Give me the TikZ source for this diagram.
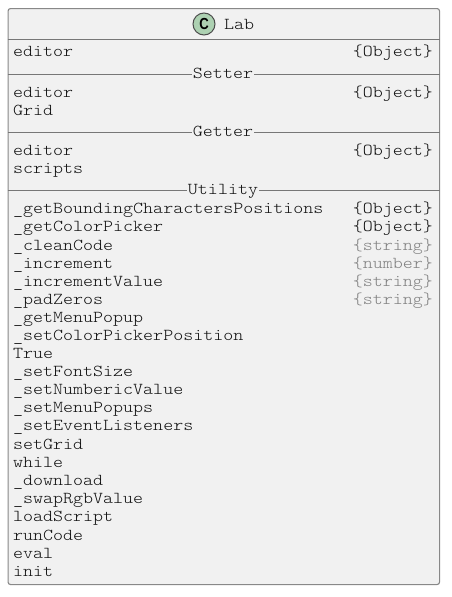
\documentclass[tikz,border=0pt]{standalone}
\usepackage{fontspec}
\setmainfont{Latin Modern Mono Light}[FakeStretch=1.143]
\newfontfamily\iconfont{Liberation Sans}[FakeStretch=0.82]
\newcommand{\us}{\raisebox{-1.6pt}{\_}}
\definecolor{boxbg}{HTML}{F1F1F1}
\definecolor{boxline}{HTML}{888888}
\definecolor{sepline}{HTML}{777777}
\definecolor{txt}{HTML}{111111}
\definecolor{muted}{HTML}{808080}
\definecolor{iconbg}{HTML}{ADD1B2}
\tikzset{
  lbl/.style={anchor=base west,inner sep=0pt,text=txt,font=\fontsize{16.67}{18}\selectfont},
  typ/.style={lbl,anchor=base east},
  mutedtyp/.style={typ,text=muted},
  sep/.style={draw=sepline,line width=0.9pt},
  seplabel/.style={lbl,anchor=base,fill=boxbg,inner xsep=1pt},
}
\begin{document}
\begin{tikzpicture}[x=1pt,y=-1pt]
\useasboundingbox (0,0) rectangle (452,597);
\node[draw=boxline,fill=boxbg,line width=1.1pt,rounded corners=2.5pt,minimum width=431.5pt,minimum height=576pt,inner sep=0pt,anchor=north west] (box) at (7.5,8) {};
\coordinate (L) at (box.west); \coordinate (R) at (box.east);
\node[circle,draw=black!70,fill=iconbg,line width=1pt,minimum size=22pt,inner sep=0pt] (icon) at (204,24) {\iconfont\bfseries\fontsize{16}{16}\selectfont C};
\node[lbl] (title) at (224,29) {Lab};
\draw[sep] (L|-0,39.5) -- (R|-0,39.5);
\node[lbl] (a1) at (13,56) {editor};
\node[typ] (a1t) at (433,56) {\{Object\}};
\draw[sep] (L|-0,74) -- (R|-0,74);
\node[seplabel] (s1) at (223,78.5) {Setter};
\node[lbl] (a2) at (13,97) {editor};
\node[typ] (a2t) at (433,97) {\{Object\}};
\node[lbl] (a3) at (13,115) {Grid};
\draw[sep] (L|-0,132) -- (R|-0,132);
\node[seplabel] (s2) at (223,136.5) {Getter};
\node[lbl] (a4) at (13,155) {editor};
\node[typ] (a4t) at (433,155) {\{Object\}};
\node[lbl] (a5) at (13,173) {scripts};
\draw[sep] (L|-0,190) -- (R|-0,190);
\node[seplabel] (s3) at (223,194.5) {Utility};
\node[lbl] (m1) at (13,213) {\us getBoundingCharactersPositions};
\node[typ] (m1t) at (433,213) {\{Object\}};
\node[lbl] (m2) at (13,231) {\us getColorPicker};
\node[typ] (m2t) at (433,231) {\{Object\}};
\node[lbl] (m3) at (13,250) {\us cleanCode};
\node[mutedtyp] (m3t) at (433,250) {\{string\}};
\node[lbl] (m4) at (13,268) {\us increment};
\node[mutedtyp] (m4t) at (433,268) {\{number\}};
\node[lbl] (m5) at (13,286) {\us incrementValue};
\node[mutedtyp] (m5t) at (433,286) {\{string\}};
\node[lbl] (m6) at (13,304) {\us padZeros};
\node[mutedtyp] (m6t) at (433,304) {\{string\}};
\node[lbl] (m7) at (13,322) {\us getMenuPopup};
\node[lbl] (m8) at (13,340) {\us setColorPickerPosition};
\node[lbl] (m9) at (13,358) {True};
\node[lbl] (m10) at (13,376) {\us setFontSize};
\node[lbl] (m11) at (13,394) {\us setNumbericValue};
\node[lbl] (m12) at (13,412) {\us setMenuPopups};
\node[lbl] (m13) at (13,430) {\us setEventListeners};
\node[lbl] (m14) at (13,449) {setGrid};
\node[lbl] (m15) at (13,467) {while};
\node[lbl] (m16) at (13,485) {\us download};
\node[lbl] (m17) at (13,503) {\us swapRgbValue};
\node[lbl] (m18) at (13,521) {loadScript};
\node[lbl] (m19) at (13,540) {runCode};
\node[lbl] (m20) at (13,558) {eval};
\node[lbl] (m21) at (13,576) {init};
\end{tikzpicture}
\end{document}
